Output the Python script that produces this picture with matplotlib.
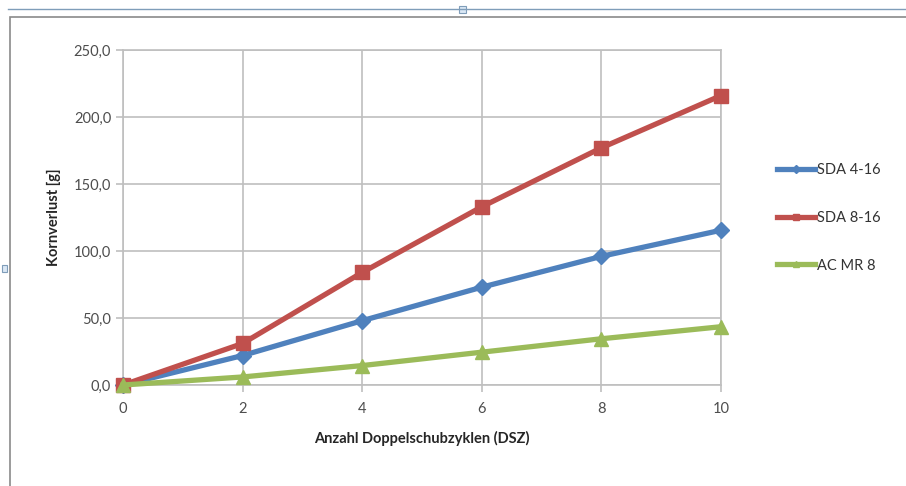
import numpy as np
import matplotlib.pyplot as plt
from matplotlib.patches import Rectangle
from matplotlib.ticker import FuncFormatter

plt.rcParams['font.family'] = ['Lato', 'DejaVu Sans']

# data
dsz = [0, 2, 4, 6, 8, 10]
sda_4_16 = [0, 22, 48, 73, 96, 115.5]
sda_8_16 = [0, 31, 84, 133, 177, 216]
ac_mr_8 = [0, 6, 14.5, 24.5, 34.5, 43.5]

series = [
    ('SDA 4-16', sda_4_16, '#4F81BD', 'D', 8),
    ('SDA 8-16', sda_8_16, '#C0504D', 's', 10),
    ('AC MR 8', ac_mr_8, '#9BBB59', '^', 10),
]

fig = plt.figure(figsize=(9.06, 4.86), dpi=100)
ax = fig.add_axes([123/906, 1 - 385/486, (721 - 123)/906, (385 - 50)/486])

for name, vals, col, mk, ms in series:
    ax.plot(dsz, vals, color=col, lw=3.8, marker=mk, markersize=ms,
            markerfacecolor=col, markeredgecolor=col, label=name,
            clip_on=False, zorder=3)

grid_col = '#BFBFBF'
ax.set_xlim(0, 10)
ax.set_ylim(0, 250)
ax.set_xticks(dsz)
ax.set_yticks(np.arange(0, 251, 50))
ax.yaxis.set_major_formatter(FuncFormatter(lambda v, p: f'{v:.1f}'.replace('.', ',')))
ax.grid(True, color=grid_col, lw=1.2)
ax.set_axisbelow(True)
for sp in ax.spines.values():
    sp.set_color(grid_col)
    sp.set_linewidth(1.2)
ax.tick_params(colors=grid_col, labelcolor='#4d4d4d', labelsize=10.5, length=5, width=1.2)
ax.tick_params(axis='x', pad=7)

ax.set_xlabel('Anzahl Doppelschubzyklen (DSZ)', fontsize=10.5, fontweight='bold', color='#262626', labelpad=11)
ax.set_ylabel('Kornverlust [g]', fontsize=10.5, fontweight='bold', color='#262626', labelpad=9)

leg = ax.legend(loc='center left', bbox_to_anchor=(770/906, 1 - 218/486), bbox_transform=fig.transFigure,
                frameon=False, fontsize=10.5, labelspacing=2.3, handlelength=2.6,
                handletextpad=0.1, borderpad=0, markerscale=0.5)
for t in leg.get_texts():
    t.set_color('#333333')

# frame of embedded chart and selection handles
fig.patches.append(Rectangle((10/906, -0.05), 1.0, 1 - 17/486 + 0.05, transform=fig.transFigure,
                             fill=False, ec='#8a8a8a', lw=1.2))
fig.lines.append(plt.Line2D([8/906, 1], [1 - 9/486, 1 - 9/486], transform=fig.transFigure,
                            color='#7f9db9', lw=1))
fig.patches.append(Rectangle((459/906, 1 - 13/486), 7/906, 7/486, transform=fig.transFigure,
                             fc='#dbe8f5', ec='#7f9db9', lw=0.8))
fig.patches.append(Rectangle((2/906, 1 - 272/486), 5/906, 7/486, transform=fig.transFigure,
                             fc='#dbe8f5', ec='#7f9db9', lw=0.8))

fig.savefig('out.png', dpi=100)
